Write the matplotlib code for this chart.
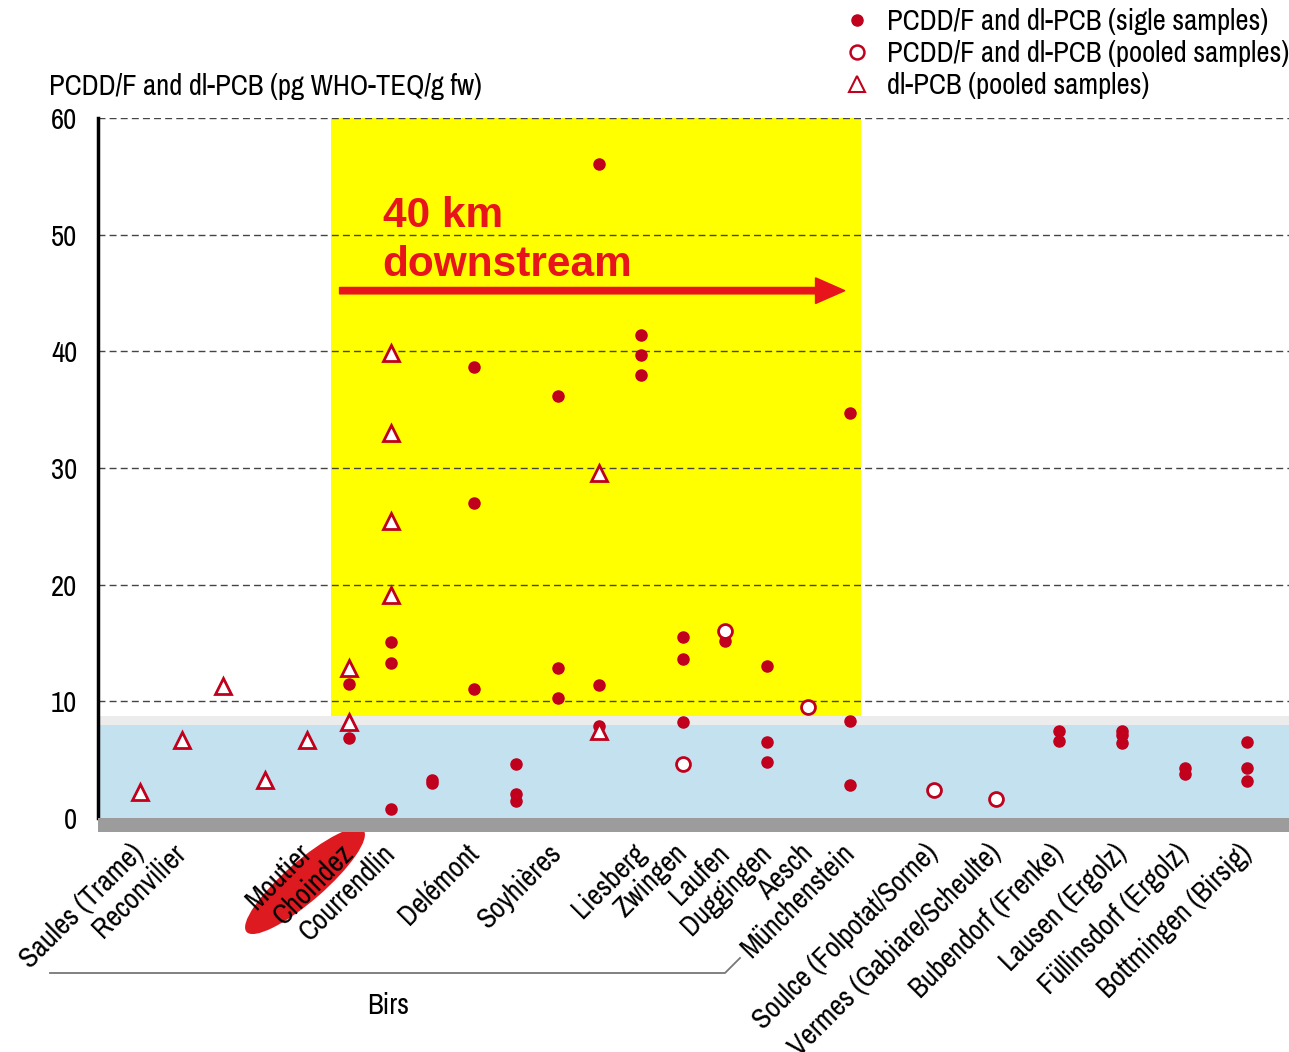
import matplotlib
matplotlib.use("Agg")
import matplotlib.pyplot as plt
from matplotlib.patches import Rectangle, Ellipse, FancyArrow
from matplotlib.lines import Line2D
from matplotlib import font_manager

names = {f.name for f in font_manager.fontManager.ttflist}
prefs = ['Liberation Sans Narrow', 'Archivo Narrow', 'PT Sans Narrow', 'Roboto Condensed',
         'IBM Plex Sans Condensed', 'Liberation Sans']
font = next((p for p in prefs if p in names), 'DejaVu Sans')
plt.rcParams['font.family'] = [font, 'Liberation Sans', 'DejaVu Sans']

# ---- data ----
site_labels = ["Saules (Trame)", "Reconvilier", "Moutier", "Choindez", "Courrendlin",
               "Delémont", "Soyhières", "Liesberg", "Zwingen", "Laufen", "Duggingen",
               "Aesch", "Münchenstein", "Soulce (Folpotat/Sorne)", "Vermes (Gabiare/Scheulte)",
               "Bubendorf (Frenke)", "Lausen (Ergolz)", "Füllinsdorf (Ergolz)", "Bottmingen (Birsig)"]
site_x = [0, 1, 4, 5, 6, 8, 10, 12, 13, 14, 15, 16, 17, 19, 20.5, 22, 23.5, 25, 26.5]

single_x = [5, 5, 6, 6, 6, 7, 7, 8, 8, 8, 9, 9, 9, 10, 10, 10, 11, 11, 11, 12, 12, 12,
            13, 13, 13, 14, 15, 15, 15, 17, 17, 17, 22, 22, 23.5, 23.5, 23.5, 25, 25,
            26.5, 26.5, 26.5]
single_y = [11.5, 6.9, 15.1, 13.3, 0.8, 3.3, 3.0, 38.7, 27.0, 11.1, 4.6, 2.1, 1.5,
            36.2, 12.9, 10.3, 56.1, 11.4, 7.9, 41.4, 39.7, 38.0, 15.5, 13.6, 8.2, 15.2,
            13.0, 6.5, 4.8, 34.7, 8.3, 2.8, 7.5, 6.6, 7.5, 7.1, 6.4, 4.3, 3.8, 6.5, 4.3, 3.2]

pooled_x = [13, 14, 16, 19, 20.5]
pooled_y = [4.6, 16.0, 9.5, 2.4, 1.6]

pcb_x = [0, 1, 2, 3, 4, 5, 5, 6, 6, 6, 6, 11, 11]
pcb_y = [2.2, 6.7, 11.3, 3.3, 6.7, 12.9, 8.2, 39.9, 33.0, 25.5, 19.1, 29.6, 7.5]

yticks = [0, 10, 20, 30, 40, 50, 60]
ylabel = "PCDD/F and dl-PCB (pg WHO-TEQ/g fw)"
legend_labels = ["PCDD/F and dl-PCB (sigle samples)",
                 "PCDD/F and dl-PCB (pooled samples)",
                 "dl-PCB (pooled samples)"]

# ---- figure ----
W, H = 1289, 1052
fig = plt.figure(figsize=(W / 100, H / 100), dpi=100)
renderer = fig.canvas.get_renderer()

# y label, sized so that it spans the same width as in the reference
yl = fig.text(49 / W, 1 - 87 / H, ylabel, fontsize=20, ha='left', va='center')
wpx = yl.get_window_extent(renderer).width
fs = 20 * 434 / wpx
yl.set_fontsize(fs)

ax = fig.add_axes([98 / W, 1 - 818 / H, (W - 98) / W, 700 / H])
ax.set_xlim(-1.0, 27.5)
ax.set_ylim(0, 60)

red = '#c0001c'

# background bands
ax.add_patch(Rectangle((4.57, 8.74), 17.25 - 4.57, 60 - 8.74, facecolor='#ffff00',
                       edgecolor='none', zorder=0))
ax.add_patch(Rectangle((-1, 8.0), 28.5, 0.75, facecolor='#ececec', edgecolor='none', zorder=0))
ax.add_patch(Rectangle((-1, 0), 28.5, 8.0, facecolor='#c4e1ef', edgecolor='none', zorder=0.5))

# grid
for yv in yticks[1:]:
    ax.axhline(yv, color='#444444', lw=1.0, ls=(0, (5, 3)), zorder=1)

# floor strip below axis
fig.patches.append(Rectangle((98 / W, 1 - 832 / H), (W - 98) / W, 14 / H,
                             transform=fig.transFigure, facecolor='#9c9c9c',
                             edgecolor='none', zorder=0))

# markers
ax.plot(single_x, single_y, 'o', color=red, ms=8, mec=red, zorder=5, clip_on=False)
ax.plot(pooled_x, pooled_y, 'o', mfc='white', mec=red, mew=2, ms=10, zorder=5, clip_on=False)
ax.plot(pcb_x, pcb_y, '^', mfc='white', mec=red, mew=2, ms=12, zorder=5, clip_on=False)

# spines
for s in ['top', 'right', 'bottom']:
    ax.spines[s].set_visible(False)
ax.spines['left'].set_linewidth(2.5)
ax.spines['left'].set_color('black')

ax.set_yticks(yticks)
ax.tick_params(axis='y', length=0, labelsize=fs, pad=15)
ax.set_xticks(site_x)
ax.set_xticklabels(site_labels, rotation=45, ha='right', va='center',
                   rotation_mode='anchor', fontsize=fs)
ax.tick_params(axis='x', length=0, pad=22)
ax.set_facecolor('none')

# downstream annotation
ax.text(5.81, 53.35, "40 km\ndownstream", color='#e8141c', fontsize=30.5,
        fontweight='bold', family=['Liberation Sans', 'DejaVu Sans'],
        ha='left', va='top', linespacing=1.3, zorder=6)
ax.add_patch(FancyArrow(4.78, 45.2, 16.87 - 4.78, 0, width=0.55, head_width=2.2,
                        head_length=0.7, length_includes_head=True, color='#e8141c',
                        zorder=6))

# Choindez ellipse
ell = Ellipse((305, H - 881), 155, 40, angle=41, facecolor='#dd1a20', edgecolor='none',
              transform=None, zorder=-1)
fig.patches.append(ell)

# Birs bracket
fig.add_artist(Line2D([50 / W, 725 / W, 740 / W], [1 - 973 / H, 1 - 973 / H, 1 - 958 / H],
                      color='#777777', lw=1.3, transform=fig.transFigure))
fig.text(388 / W, 1 - 1005 / H, "Birs", fontsize=fs, ha='center', va='center')

# legend
handles = [Line2D([], [], ls='none', marker='o', color=red, ms=8),
           Line2D([], [], ls='none', marker='o', mfc='white', mec=red, mew=1.8, ms=10),
           Line2D([], [], ls='none', marker='^', mfc='white', mec=red, mew=1.5, ms=11)]
fig.legend(handles, legend_labels, loc='upper left', bbox_to_anchor=(822 / W, 1 + 12 / H),
           frameon=False, fontsize=fs, handlelength=1.0, handletextpad=0.55,
           labelspacing=0.18, borderpad=0.2)

fig.savefig('out.png', dpi=100)
